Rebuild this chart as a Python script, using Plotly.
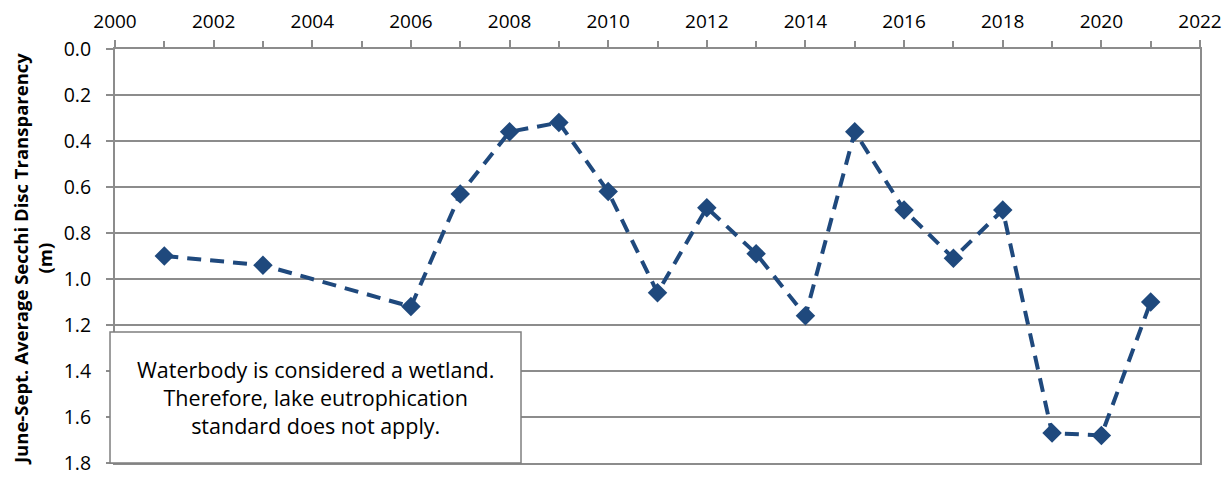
import plotly.graph_objects as go

years = [2001, 2003, 2006, 2007, 2008, 2009, 2010, 2011, 2012, 2013, 2014, 2015, 2016, 2017, 2018, 2019, 2020, 2021]
secchi = [0.90, 0.94, 1.12, 0.63, 0.36, 0.32, 0.62, 1.06, 0.69, 0.89, 1.16, 0.36, 0.70, 0.91, 0.70, 1.67, 1.68, 1.10]
y_title = "June-Sept. Average Secchi Disc Transparency<br>(m)"
note = "Waterbody is considered a wetland.<br>Therefore, lake eutrophication<br>standard does not apply."

FONT = "Open Sans"
GRID = "#8c8c8c"

fig = go.Figure()
fig.add_trace(go.Scatter(
    x=years, y=secchi, mode="lines+markers",
    line=dict(color="#1F497D", width=4, dash="14px,9px"),
    marker=dict(symbol="diamond", size=15, color="#1F497D"),
    showlegend=False,
))

fig.update_layout(
    width=1232, height=478,
    margin=dict(l=107, r=40, t=41, b=23, autoexpand=False),
    paper_bgcolor="white", plot_bgcolor="white",
    font=dict(family=FONT, color="black"),
    xaxis=dict(
        range=[2000, 2022], side="top", dtick=2, tick0=2000, automargin=False,
        tickformat="d", showgrid=False, zeroline=False,
        showline=True, linecolor=GRID, linewidth=2, mirror=True,
        ticks="outside", ticklen=7, tickcolor=GRID, tickwidth=2,
        ticklabelstandoff=4,
        minor=dict(dtick=1, ticks="outside", ticklen=6, tickcolor=GRID, tickwidth=2),
        tickfont=dict(size=19, family=FONT),
    ),
    yaxis=dict(
        range=[1.8, 0.0], dtick=0.2, tick0=0, tickformat=".1f", automargin=False,
        showgrid=True, gridcolor=GRID, gridwidth=2, zeroline=False,
        showline=True, linecolor=GRID, linewidth=2, mirror=True,
        ticks="outside", ticklen=7, tickcolor=GRID, tickwidth=2,
        ticklabelstandoff=11,
        tickfont=dict(size=19.5, family=FONT),
    ),
)

# y-axis title (placed as rotated text so it can sit where the reference has it)
fig.add_annotation(xref="paper", yref="paper", x=-0.0760, y=0.4915,
                   xanchor="center", yanchor="middle", textangle=-90,
                   text=y_title, showarrow=False, align="center",
                   font=dict(size=18.5, family=FONT, color="black", weight="bold"))

fig.add_shape(type="rect", xref="paper", yref="paper",
              x0=-0.0046, x1=0.3742, y0=0.0, y1=0.3164,
              line=dict(color="#7f7f7f", width=1.5), fillcolor="white", layer="above")
fig.add_annotation(xref="paper", yref="paper", x=0.1848, y=0.158,
                   xanchor="center", yanchor="middle",
                   text=note, showarrow=False, align="center",
                   font=dict(size=21.5, family=FONT, color="black"))

fig.write_html("out.html")
